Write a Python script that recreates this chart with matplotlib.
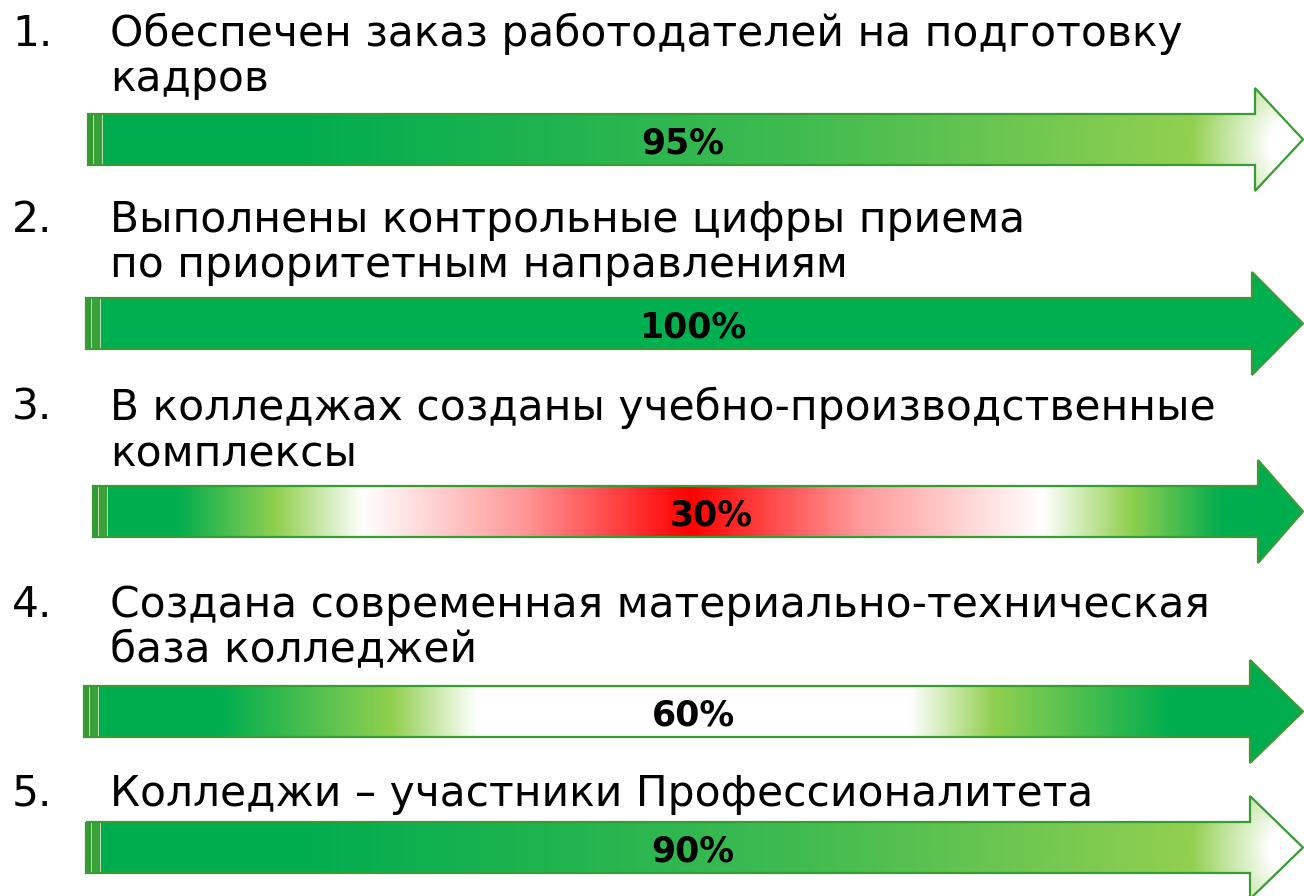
import numpy as np
import matplotlib
matplotlib.use('Agg')
import matplotlib.pyplot as plt
from matplotlib.patches import Polygon, Rectangle
from matplotlib.colors import to_rgb

# data
numbers = ['1.', '2.', '3.', '4.', '5.']
titles = [
    ['Обеспечен заказ работодателей на подготовку', 'кадров'],
    ['Выполнены контрольные цифры приема', 'по приоритетным направлениям'],
    ['В колледжах созданы учебно-производственные', 'комплексы'],
    ['Создана современная материально-техническая', 'база колледжей'],
    ['Колледжи – участники Профессионалитета'],
]
percents = [95, 100, 30, 60, 90]

# layout (pixels, y down)
title_y = [46, 232, 420, 617, 806]
LINE_STEP = 45
body_top = [114, 298, 486, 686, 822]
arrow_left = [88, 86, 93, 84, 86]
head_x = [1255, 1252, 1258, 1250, 1250]
pct_x = [683, 693, 711, 693, 693]

GREEN = '#00ad4e'
LG = '#92d050'
W = '#ffffff'
RED = '#ff0000'
EDGE = '#3a9a35'

# gradient styles: ('radial', center, stops by distance) or ('linear', stops by x)
fills = [
    ('radial', (1300, 145), [(0, W), (30, W), (110, LG), (500, '#40bb50'), (1000, GREEN)]),
    ('linear', [(0, '#00b050'), (1304, '#00b050')]),
    ('linear', [(0, GREEN), (177, GREEN), (277, LG), (363, W), (520, '#ff9a9a'), (690, RED),
                (860, '#ff9a9a'), (1043, W), (1130, LG), (1223, GREEN), (1304, GREEN)]),
    ('linear', [(0, GREEN), (220, GREEN), (393, LG), (477, W), (910, W),
                (993, LG), (1173, GREEN), (1304, GREEN)]),
    ('radial', (1300, 850), [(0, W), (30, W), (110, LG), (500, '#40bb50'), (1000, GREEN)]),
]


def interp_colors(t, stops):
    pos = np.array([s[0] for s in stops], dtype=float)
    cols = np.array([to_rgb(s[1]) for s in stops])
    out = np.zeros(t.shape + (3,))
    for c in range(3):
        out[..., c] = np.interp(t, pos, cols[:, c])
    return out


fig = plt.figure(figsize=(13.04, 8.96), dpi=100)
ax = fig.add_axes([0, 0, 1, 1])
ax.set_xlim(0, 1304)
ax.set_ylim(896, 0)
ax.axis('off')

BODY_H = 51
HEAD_EXT = 26
TIP_X = 1303

for i in range(5):
    top = body_top[i]
    bot = top + BODY_H
    mid = (top + bot) / 2
    left = arrow_left[i]
    hx = head_x[i]
    verts = [(left, top), (hx, top), (hx, top - HEAD_EXT), (TIP_X, mid),
             (hx, bot + HEAD_EXT), (hx, bot), (left, bot)]

    # gradient image over the arrow bounding box
    y0, y1 = top - HEAD_EXT, bot + HEAD_EXT
    xs = np.arange(left, TIP_X + 1) + 0.5
    ys = np.arange(y0, y1 + 1) + 0.5
    X, Y = np.meshgrid(xs, ys)
    f = fills[i]
    if f[0] == 'radial':
        cx, cy = f[1]
        img = interp_colors(np.hypot(X - cx, Y - cy), f[2])
    else:
        img = interp_colors(X, f[1])
    im = ax.imshow(img, extent=(left, TIP_X + 1, y1 + 1, y0), origin='upper',
                   interpolation='bilinear', zorder=1)
    clip = Polygon(verts, closed=True, transform=ax.transData)
    im.set_clip_path(clip)

    ax.add_patch(Polygon(verts, closed=True, fill=False, edgecolor=EDGE,
                         linewidth=1.6, joinstyle='miter', zorder=3))

    # striped left end
    ax.add_patch(Rectangle((left, top), 5, BODY_H, facecolor='#339a33', edgecolor='none', zorder=2))
    ax.add_patch(Rectangle((left + 5, top), 1.2, BODY_H, facecolor='#b8dcb0', edgecolor='none', zorder=2))
    ax.add_patch(Rectangle((left + 6.2, top), 8, BODY_H, facecolor='#3aa03a', edgecolor='none', zorder=2))
    ax.add_patch(Rectangle((left + 14.2, top), 1.2, BODY_H, facecolor='#b8dcb0', edgecolor='none', zorder=2))

    ax.text(pct_x[i], mid + 4, f'{percents[i]}%', ha='center', va='center',
            fontsize=25, fontweight='bold', color='black', zorder=4)

    ax.text(12, title_y[i], numbers[i], ha='left', va='baseline', fontsize=30.5, color='black')
    for j, line in enumerate(titles[i]):
        ax.text(110, title_y[i] + j * LINE_STEP, line, ha='left', va='baseline',
                fontsize=30.5, color='black')

fig.savefig('out.png', dpi=100)
